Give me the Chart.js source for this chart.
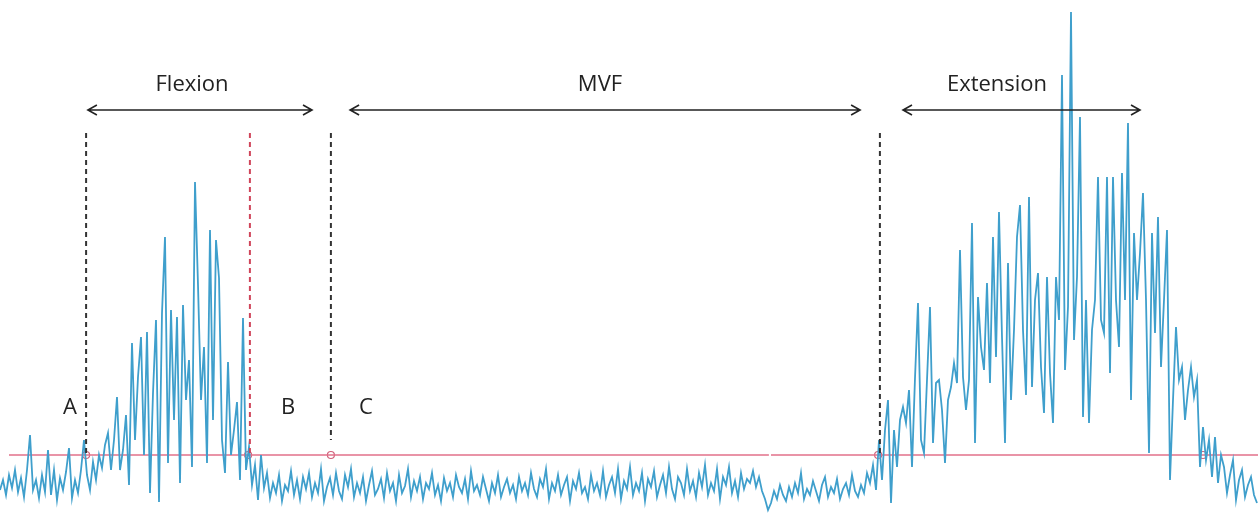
<!DOCTYPE html>
<html>
<head>
<meta charset="utf-8">
<script src="https://cdn.jsdelivr.net/npm/chart.js@4"></script>
<style>
  html, body { margin: 0; padding: 0; background: #fff; }
  #wrap { width: 1258px; height: 513px; }
</style>
</head>
<body>
<div id="wrap"><canvas id="emg"></canvas></div>
<script>
// EMG signal (arbitrary amplitude units), one sample every step
const signal = [
  23, 33, 18, 38, 25, 43, 21, 35, 16, 43, 78, 23, 33, 15, 38, 21, 63, 18, 43, 13,
  35, 23, 41, 65, 15, 33, 20, 43, 73,
  // flexion burst
  38, 23, 51, 33, 58, 45, 68, 80, 43, 73, 116, 43, 63, 98, 28, 170, 73, 136, 176, 58,
  181, 20, 120, 193, 11, 200, 276, 50, 203, 93, 196, 30, 208, 113, 153, 46, 331, 228, 113, 166,
  50, 283, 93, 273, 235, 73, 40, 151, 58, 83, 111, 33, 195, 43, 66, 28, 48, 13, 58,
  // rest / MVF
  25, 40, 15, 30, 20, 38, 12, 28, 22, 42, 18, 33, 14, 36, 24, 40, 16, 30, 20, 44, 12, 26, 35,
  18, 40, 22, 14, 38, 26, 44, 16, 30, 20, 36, 12, 28, 42, 18, 24, 34, 15, 40, 22, 30, 12, 38, 20, 27, 44, 16, 32, 22, 36,
  14, 30, 24, 40, 18, 28, 12, 35, 22, 30, 16, 38, 26, 20, 34, 14, 42, 22, 28, 18, 36, 24, 12, 30, 20, 38, 16, 26, 34, 20,
  28, 14, 36, 22, 30, 18, 40, 24, 16, 34, 26, 44, 14, 30, 22, 38, 18, 28, 36, 12, 32, 24, 40, 20, 26, 14, 38, 22, 30, 18,
  42, 16, 28, 36, 20, 44, 14, 32, 24, 46, 18, 30, 22, 40, 12, 34, 26, 42, 16, 28, 38, 20, 46, 24, 14, 36, 30, 18, 44, 22,
  32, 16, 40, 26, 48, 18, 30, 22, 44, 14, 36, 28, 46, 20, 32, 16, 40, 24, 34, 30, 42, 26, 36, 22, 14, 3,
  10, 22, 14, 28, 18, 12, 26, 16, 30, 20, 40, 14, 24, 18, 32, 22, 12, 28, 36, 16, 26, 20, 34, 14, 24, 30, 18, 38, 22, 16,
  28, 20, 40, 30, 48,
  // extension burst
  23, 73, 33, 83, 113, 10, 83, 46, 93, 106, 90, 123, 46, 135, 210, 73, 60, 133, 206, 70,
  130, 133, 103, 50, 113, 126, 150, 130, 263, 136, 103, 133, 290, 70, 216, 166, 143, 230, 130, 276,
  156, 301, 176, 70, 250, 113, 183, 276, 308, 183, 118, 316, 126, 213, 240, 146, 100, 236, 140, 90,
  236, 193, 438, 143, 206, 501, 173, 236, 396, 96, 213, 90, 183, 213, 336, 193, 180, 336, 140, 336,
  213, 166, 340, 213, 390, 113, 280, 213, 260, 320, 213, 60, 280, 180, 296, 146, 213, 283, 33, 113,
  186, 133, 146, 93, 123, 146, 116, 133, 46, 86, 53, 73, 36, 76, 30, 58, 46, 20, 38, 53,
  13, 33, 43, 16, 28, 36, 18, 10
];
const step = 3;
const threshold = 58;

// phase boundaries (sample index)
const onsets = [28.7, 83.3, 110.3, 293.3];
const onsetColors = ['#333', '#d0455a', '#333', '#333'];
const crossings = [28.7, 82.7, 110.3, 292.7, 401];
const phaseLabels = ['Flexion', 'MVF', 'Extension'];
const phaseSpans = [[29.3, 104], [116.7, 286.7], [301, 380]];
const pointLabels = ['A', 'B', 'C'];
const pointLabelPos = [23.3, 96, 122];

const maxX = 1258 / step;

const annotations = {
  id: 'annotations',
  afterDatasetsDraw(chart) {
    const { ctx } = chart;
    const xs = chart.scales.x, ys = chart.scales.y;
    ctx.save();
    // dashed onset lines
    ctx.lineWidth = 2;
    ctx.setLineDash([5, 4]);
    onsets.forEach((s, i) => {
      const px = xs.getPixelForValue(s);
      ctx.strokeStyle = onsetColors[i];
      ctx.beginPath();
      ctx.moveTo(px, ys.getPixelForValue(380));
      ctx.lineTo(px, ys.getPixelForValue(threshold + (i == 2 ? 15 : 0)));
      ctx.stroke();
    });
    ctx.setLineDash([]);
    // phase arrows
    ctx.strokeStyle = '#222';
    ctx.fillStyle = '#222';
    ctx.lineWidth = 1.6;
    const ay = ys.getPixelForValue(403);
    phaseSpans.forEach((sp, i) => {
      const x1 = xs.getPixelForValue(sp[0]), x2 = xs.getPixelForValue(sp[1]);
      ctx.beginPath();
      ctx.moveTo(x1, ay); ctx.lineTo(x2, ay);
      ctx.moveTo(x1 + 9, ay - 5); ctx.lineTo(x1, ay); ctx.lineTo(x1 + 9, ay + 5);
      ctx.moveTo(x2 - 9, ay - 5); ctx.lineTo(x2, ay); ctx.lineTo(x2 - 9, ay + 5);
      ctx.stroke();
    });
    ctx.font = '22px "Open Sans", sans-serif';
    ctx.textAlign = 'center';
    ctx.textBaseline = 'middle';
    const labelX = [192, 600, 997];
    phaseLabels.forEach((t, i) => {
      ctx.fillText(t, labelX[i], ys.getPixelForValue(428));
    });
    pointLabels.forEach((t, i) => {
      ctx.fillText(t, xs.getPixelForValue(pointLabelPos[i]), ys.getPixelForValue(105));
    });
    ctx.restore();
  }
};

new Chart(document.getElementById('emg'), {
  type: 'line',
  data: {
    datasets: [
      {
        label: 'EMG',
        data: signal.map((v, i) => ({ x: i, y: v })),
        borderColor: '#3f9fcc',
        borderWidth: 1.8,
        pointRadius: 0,
        tension: 0
      },
      {
        label: 'Threshold',
        data: [{ x: 3, y: threshold }, { x: 256.3, y: threshold }, { x: 256.6, y: null }, { x: 257, y: threshold }, { x: maxX, y: threshold }],
        borderColor: '#e2728a',
        borderWidth: 1.5,
        pointRadius: 0,
        spanGaps: false
      },
      {
        label: 'Crossings',
        type: 'scatter',
        data: crossings.map(s => ({ x: s, y: threshold })),
        pointRadius: 3.5,
        pointBorderWidth: 1.2,
        pointBorderColor: '#d0607a',
        pointBackgroundColor: 'rgba(255,255,255,0)'
      }
    ]
  },
  options: {
    responsive: true,
    maintainAspectRatio: false,
    animation: false,
    layout: { padding: 0, autoPadding: false },
    plugins: { legend: { display: false }, tooltip: { enabled: false } },
    scales: {
      x: { type: 'linear', min: 0, max: maxX, display: false },
      y: { min: 0, max: 513, display: false }
    }
  },
  plugins: [annotations]
});
</script>
</body>
</html>
